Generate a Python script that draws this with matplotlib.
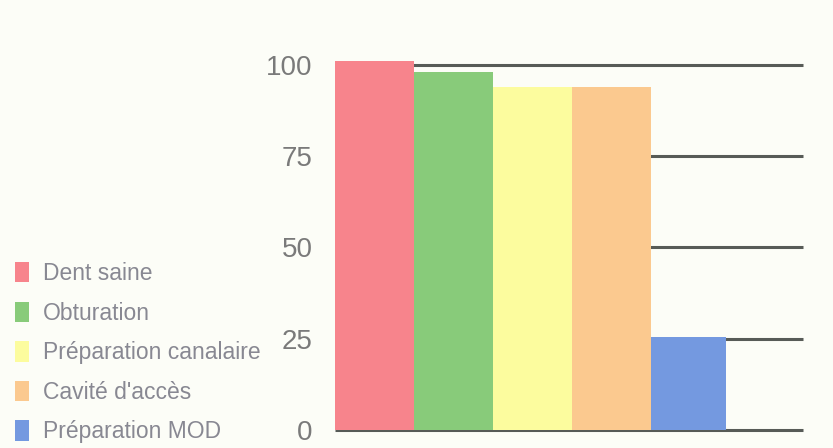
import matplotlib
matplotlib.use("Agg")
from matplotlib import pyplot as plt
from matplotlib.patches import Patch

plt.rcParams['font.family'] = ['Liberation Sans', 'DejaVu Sans']

# data
categories = ['Dent saine', 'Obturation', 'Préparation canalaire',
              "Cavité d'accès", 'Préparation MOD']
values = [101, 98, 94, 94, 25.5]
colors = ['#f7848c', '#88cb7a', '#fcfc9e', '#fbc98f', '#7499e0']
ticks = [0, 25, 50, 75, 100]

bg = '#fcfdf7'
grid_col = '#575b57'

fig = plt.figure(figsize=(8.33, 4.48), dpi=100, facecolor=bg)
ax = fig.add_axes([0.402, 0.0402, 0.562, 0.8473])
ax.set_facecolor(bg)

# grid lines sit behind the bars
for t in ticks:
    ax.axhline(t, color=grid_col, lw=2.2, zorder=1, clip_on=False,
               solid_capstyle='butt')

x = list(range(len(values)))
ax.bar(x, values, width=[1, 1, 1, 1, 0.95], color=colors, zorder=2,
       align='edge')

ax.set_xlim(0, 5.92)
ax.set_ylim(0, 104)
ax.set_yticks(ticks)
ax.set_yticklabels([str(t) for t in ticks])
ax.tick_params(axis='y', length=0, pad=16, labelsize=20, labelcolor='#7a7a7a')
ax.set_xticks([])
for s in ax.spines.values():
    s.set_visible(False)

handles = [Patch(facecolor=c, edgecolor='none') for c in colors]
fig.legend(handles, categories, loc='lower left',
           bbox_to_anchor=(0.012, 0.0), frameon=False, fontsize=16.5,
           labelcolor='#888892', handlelength=0.62, handleheight=1.0,
           handletextpad=0.6, labelspacing=0.72, borderpad=0.2,
           borderaxespad=0.0)

fig.savefig('out.png', dpi=100, facecolor=bg)
